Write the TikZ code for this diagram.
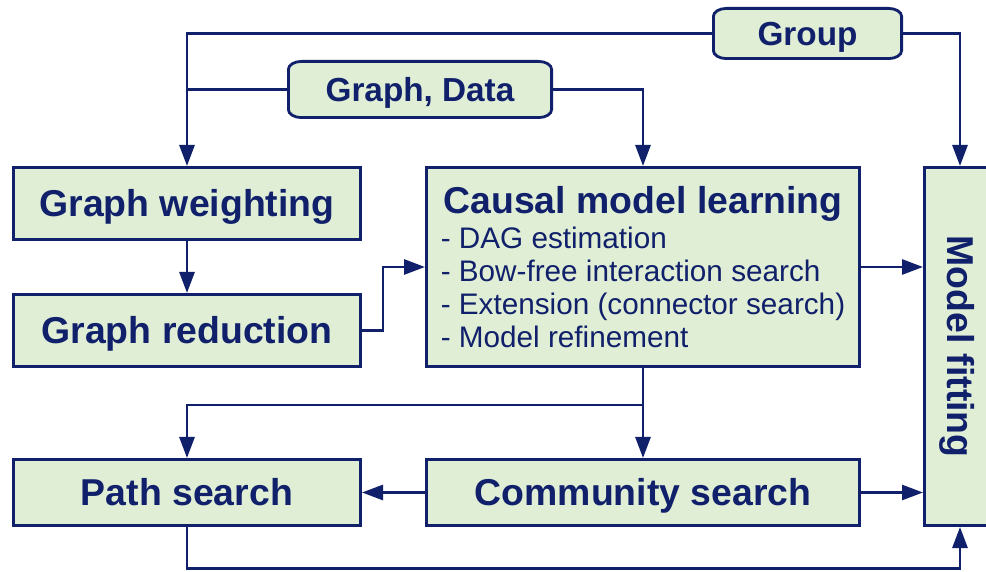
\documentclass[tikz,border=0pt]{standalone}
\usepackage{fontspec}
\setmainfont{Liberation Sans}
\usetikzlibrary{arrows.meta,backgrounds}
\definecolor{boxfill}{HTML}{E0EED5}
\definecolor{ink}{HTML}{10206A}
\newcommand{\tagframe}[1]{\path[tagline] ([yshift=-8pt]#1.north west) arc[start angle=180,end angle=90,x radius=13pt,y radius=8pt] -- ([xshift=-13pt]#1.north east) arc[start angle=90,end angle=0,x radius=13pt,y radius=8pt] -- ([yshift=8pt]#1.south east) arc[start angle=0,end angle=-90,x radius=13pt,y radius=8pt] -- ([xshift=13pt]#1.south west) arc[start angle=270,end angle=180,x radius=13pt,y radius=8pt] -- cycle;}
\newcommand{\lrow}[1]{\rule[-9.9pt]{0pt}{33pt}#1}
\begin{document}
\begin{tikzpicture}[x=1pt,y=1pt,
  frame/.style={draw=ink, fill=boxfill, line width=2.8pt, text=ink, inner sep=0pt},
  box/.style={frame, font=\fontsize{37.4}{44}\selectfont\bfseries, text height=33.8pt, text depth=7.9pt},
  tag/.style={text=ink, font=\fontsize{33.3}{40}\selectfont\bfseries, text height=30.1pt, text depth=7pt, inner sep=0pt, outer sep=0pt},
  tagline/.style={draw=ink, fill=boxfill, line width=2.8pt},
  conn/.style={draw=ink, line width=2.8pt, -{Triangle[length=21pt,width=15pt]}},
  link/.style={draw=ink, line width=2.8pt},
]
\useasboundingbox (0,0) rectangle (986,571);

\node[tag, minimum width=188.2pt, minimum height=50.2pt] (grp) at (807.5,537.5) {Group};
\node[tag, minimum width=263.2pt, minimum height=56.2pt] (gd) at (420,481.5) {Graph, Data};
\begin{scope}[on background layer]
\tagframe{grp}
\tagframe{gd}
\end{scope}

\node[box, minimum width=347.2pt, minimum height=72.2pt] (gw) at (187,367.5) {Graph weighting};
\node[box, minimum width=347.2pt, minimum height=72.2pt] (gr) at (187,240.5) {Graph reduction};
\node[frame, minimum width=433.2pt, minimum height=199.2pt] (cml) at (643,304) {\fontsize{29.7}{33}\selectfont\renewcommand{\arraystretch}{0}\begin{tabular}{@{}l@{}}\multicolumn{1}{@{}c@{}}{\rule[-11.9pt]{0pt}{45.4pt}\fontsize{37.4}{44}\selectfont\bfseries Causal model learning}\\
\lrow{- DAG estimation}\\
\lrow{- Bow-free interaction search}\\
\lrow{- Extension (connector search)}\\
\rule[-6.3pt]{0pt}{29.4pt}- Model refinement\end{tabular}};
\node[box, rotate=-90, minimum width=358.2pt, minimum height=71.2pt] (mf) at (960,224.5) {Model fitting};
\node[box, minimum width=347.2pt, minimum height=66.2pt] (ps) at (187,78.5) {Path search};
\node[box, minimum width=433.2pt, minimum height=66.2pt] (cs) at (643,78.5) {Community search};

\draw[conn] (grp.west) -| (gw.north);
\draw[link] (gd.west) -- (gd.west -| gw.north);
\draw[conn] (gd.east) -| (cml.north);
\draw[conn] (grp.east) -| (mf.west);
\draw[conn] (gw.south) -- (gr.north);
\draw[conn] (gr.east) -- ++(21,0) |- (cml.west);
\draw[conn] (cml.east) -- (cml.east -| mf.south);
\draw[conn] (cml.south) -- (cs.north);
\coordinate (split) at ([yshift=-37pt]cml.south);
\draw[conn] (split) -| (ps.north);
\draw[conn] (cs.west) -- (ps.east);
\draw[conn] (cs.east) -- (cs.east -| mf.south);
\coordinate (low) at ([yshift=-41.5pt]ps.south);
\draw[conn] (ps.south) -- (low) -| (mf.east);
\end{tikzpicture}
\end{document}
